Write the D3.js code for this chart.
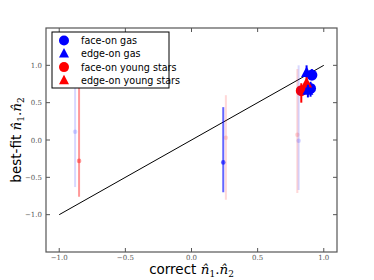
<!DOCTYPE html>
<html>
<head>
<meta charset="utf-8">
<script src="https://cdn.jsdelivr.net/npm/d3@7"></script>
<style>
  body { margin: 0; background: #fff; }
  svg { display: block; }
</style>
</head>
<body>
<div id="chart"></div>
<script>
// ---- data ----
const xTicks = [-1.0, -0.5, 0.0, 0.5, 1.0];
const yTicks = [-1.0, -0.5, 0.0, 0.5, 1.0];
const oneToOne = [[-1, -1], [1, 1]];

// face-on gas (blue circles)
const faceGasX  = [-0.88, 0.24, 0.81, 0.91, 0.90];
const faceGasY  = [0.11, -0.30, -0.01, 0.87, 0.69];
const faceGasLo = [-0.63, -0.70, -0.67, 0.80, 0.58];
const faceGasHi = [0.85, 0.44, 1.00, 0.95, 0.78];
const faceGasW  = [0.15, 0.6, 0.15, 1, 1];

// edge-on gas (blue triangles)
const edgeGasX  = [0.87, 0.88];
const edgeGasY  = [0.90, 0.66];
const edgeGasLo = [0.84, 0.57];
const edgeGasHi = [1.00, 0.74];
const edgeGasW  = [1, 1];

// face-on young stars (red circles)
const faceStarX  = [-0.85, 0.26, 0.80, 0.83];
const faceStarY  = [-0.28, 0.03, 0.07, 0.66];
const faceStarLo = [-0.76, -0.80, -0.71, 0.50];
const faceStarHi = [0.85, 0.60, 0.95, 0.76];
const faceStarW  = [0.4, 0.15, 0.15, 1];

// edge-on young stars (red triangles)
const edgeStarX  = [0.87];
const edgeStarY  = [0.76];
const edgeStarLo = [0.62];
const edgeStarHi = [0.90];
const edgeStarW  = [1];

const legendLabels = ["face-on gas", "edge-on gas", "face-on young stars", "edge-on young stars"];

// ---- layout ----
const W = 374, H = 280;
const plotL = 46, plotR = 337, plotT = 28, plotB = 252;

const svg = d3.select("#chart").append("svg")
  .attr("width", W).attr("height", H);

const x = d3.scaleLinear().domain([-1.1, 1.1]).range([plotL, plotR]);
const y = d3.scaleLinear().domain([-1.5, 1.5]).range([plotB, plotT]);

const fmt = d => (d < 0 ? "\u2212" : "") + Math.abs(d).toFixed(1);
const tickFont = "'DejaVu Serif', serif";

// frame
svg.append("rect")
  .attr("x", plotL).attr("y", plotT)
  .attr("width", plotR - plotL).attr("height", plotB - plotT)
  .attr("fill", "#fff").attr("stroke", "#555").attr("stroke-width", 1.2);

// inward ticks on all four sides
const tickLen = 4;
const g = svg.append("g").attr("stroke", "#555").attr("stroke-width", 1);
xTicks.forEach(t => {
  g.append("line").attr("x1", x(t)).attr("x2", x(t)).attr("y1", plotB).attr("y2", plotB - tickLen);
  g.append("line").attr("x1", x(t)).attr("x2", x(t)).attr("y1", plotT).attr("y2", plotT + tickLen);
});
yTicks.forEach(t => {
  g.append("line").attr("x1", plotL).attr("x2", plotL + tickLen).attr("y1", y(t)).attr("y2", y(t));
  g.append("line").attr("x1", plotR).attr("x2", plotR - tickLen).attr("y1", y(t)).attr("y2", y(t));
});

svg.append("g").selectAll("text").data(xTicks).join("text")
  .attr("x", d => x(d)).attr("y", plotB + 8)
  .attr("text-anchor", "middle")
  .attr("font-family", tickFont).attr("font-size", 7).attr("fill", "#555")
  .text(fmt);

svg.append("g").selectAll("text").data(yTicks).join("text")
  .attr("x", plotL - 4).attr("y", d => y(d) + 2.5)
  .attr("text-anchor", "end")
  .attr("font-family", tickFont).attr("font-size", 7).attr("fill", "#555")
  .text(fmt);

// 1:1 line
svg.append("path")
  .attr("d", d3.line().x(d => x(d[0])).y(d => y(d[1]))(oneToOne))
  .attr("stroke", "#000").attr("stroke-width", 1).attr("fill", "none");

// ---- series ----
const triPath = r => `M0,${-r * 1.15}L${r},${r * 0.75}L${-r},${r * 0.75}Z`;

function drawSeries(xs, ys, los, his, ws, color, shape) {
  const pts = xs.map((v, i) => ({ x: v, y: ys[i], lo: los[i], hi: his[i], w: ws[i] }));
  const sg = svg.append("g");
  sg.selectAll("line").data(pts).join("line")
    .attr("x1", d => x(d.x)).attr("x2", d => x(d.x))
    .attr("y1", d => y(d.lo)).attr("y2", d => y(d.hi))
    .attr("stroke", color).attr("stroke-width", 2)
    .attr("opacity", d => d.w);
  pts.forEach(d => {
    const r = d.w >= 0.9 ? 5.5 : 2.3;
    if (shape === "circle") {
      sg.append("circle").attr("cx", x(d.x)).attr("cy", y(d.y)).attr("r", r)
        .attr("fill", color).attr("opacity", d.w);
    } else {
      sg.append("path").attr("d", triPath(r))
        .attr("transform", `translate(${x(d.x)},${y(d.y)})`)
        .attr("fill", color).attr("opacity", d.w);
    }
  });
}

drawSeries(faceStarX, faceStarY, faceStarLo, faceStarHi, faceStarW, "#ff0000", "circle");
drawSeries(faceGasX, faceGasY, faceGasLo, faceGasHi, faceGasW, "#0000ff", "circle");
drawSeries(edgeStarX, edgeStarY, edgeStarLo, edgeStarHi, edgeStarW, "#ff0000", "triangle");
drawSeries(edgeGasX, edgeGasY, edgeGasLo, edgeGasHi, edgeGasW, "#0000ff", "triangle");

// ---- legend ----
const leg = svg.append("g").attr("transform", "translate(52,32)");
leg.append("rect").attr("width", 117).attr("height", 56)
  .attr("fill", "#fff").attr("stroke", "#000").attr("stroke-width", 1);
const legColors = ["#0000ff", "#0000ff", "#ff0000", "#ff0000"];
const legShapes = ["circle", "triangle", "circle", "triangle"];
legendLabels.forEach((lab, i) => {
  const cy = 8.5 + i * 13.3;
  if (legShapes[i] === "circle") {
    leg.append("circle").attr("cx", 12).attr("cy", cy).attr("r", 5).attr("fill", legColors[i]);
  } else {
    leg.append("path").attr("d", triPath(5)).attr("transform", `translate(12,${cy})`).attr("fill", legColors[i]);
  }
  leg.append("text").attr("x", 29).attr("y", cy + 3.5)
    .attr("font-family", "'DejaVu Sans', sans-serif").attr("font-size", 9.6)
    .attr("fill", "#000").text(lab);
});

// ---- axis labels with math ----
function mathLabel(sel, word) {
  sel.append("tspan").attr("font-family", "'DejaVu Sans', sans-serif").text(word + " ");
  const mf = "'DejaVu Serif', serif";
  sel.append("tspan").attr("font-family", mf).attr("font-style", "italic").text("n\u0302");
  sel.append("tspan").attr("font-family", mf).attr("font-size", 9).attr("dy", 3).text("1");
  sel.append("tspan").attr("font-family", mf).attr("dy", -3).text(".");
  sel.append("tspan").attr("font-family", mf).attr("font-style", "italic").text("n\u0302");
  sel.append("tspan").attr("font-family", mf).attr("font-size", 9).attr("dy", 3).text("2");
}

const xl = svg.append("text")
  .attr("x", (plotL + plotR) / 2).attr("y", 274)
  .attr("text-anchor", "middle").attr("font-size", 13.5).attr("fill", "#000");
mathLabel(xl, "correct");

const yl = svg.append("text")
  .attr("transform", `translate(21,${(plotT + plotB) / 2}) rotate(-90)`)
  .attr("text-anchor", "middle").attr("font-size", 13.5).attr("fill", "#000");
mathLabel(yl, "best-fit");
</script>
</body>
</html>
